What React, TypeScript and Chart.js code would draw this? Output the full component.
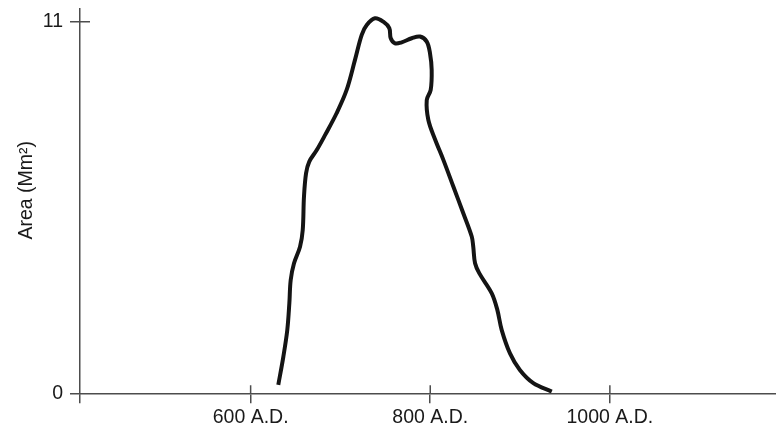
import { useEffect, useRef } from 'react';
import { Chart, registerables } from 'chart.js';

Chart.register(...registerables);

// Years (A.D.) along the curve
const years = [
  630.8, 636.4, 640.8, 643.1, 644.6, 648.3, 655.0, 658.0, 659.4, 661.7,
  665.3, 673.6, 683.0, 695.7, 706.9, 716.2, 723.7, 729.3, 738.5, 747.7,
  754.4, 756.0, 760.8, 768.2, 779.4, 788.6, 796.1, 799.7, 801.6, 800.5,
  796.1, 797.9, 805.3, 814.6, 825.7, 836.8, 846.2, 847.9, 849.9, 854.7,
  868.5, 874.7, 879.6, 888.8, 899.8, 914.8, 935.3,
];
// Area (Mm²) at each year
const areas = [
  0.25, 1.08, 1.87, 2.66, 3.35, 3.85, 4.34, 4.83, 5.82, 6.51,
  6.86, 7.20, 7.65, 8.29, 8.98, 9.87, 10.61, 10.90, 11.10, 11.00,
  10.81, 10.51, 10.36, 10.39, 10.51, 10.56, 10.41, 10.07, 9.57, 8.98,
  8.68, 8.09, 7.52, 6.91, 6.12, 5.33, 4.64, 4.34, 3.85, 3.55,
  2.96, 2.47, 1.87, 1.18, 0.69, 0.30, 0.05,
];

const xTickValues = [600, 800, 1000];
const xTickLabels = ['600 A.D.', '800 A.D.', '1000 A.D.'];
const yTickValues = [0, 11];
const yTickLabels = ['0', '11'];
const yAxisTitle = 'Area (Mm²)';

const X_MIN = 410;
const X_MAX = 1185;
const Y_MIN = 0;
const Y_MAX = 11.376;

const FONT = "'Liberation Sans', Arial, Helvetica, sans-serif";
const AXIS_COLOR = '#4d4d4d';
const TEXT_COLOR = '#1a1a1a';

const innerTicks = {
  id: 'innerTicks',
  afterDraw(chart: any) {
    const { ctx } = chart;
    const xs = chart.scales.x;
    const ys = chart.scales.y;
    ctx.save();
    ctx.strokeStyle = AXIS_COLOR;
    ctx.lineWidth = 1.5;
    ctx.beginPath();
    xTickValues.forEach((v) => {
      const px = xs.getPixelForValue(v);
      ctx.moveTo(px, xs.top);
      ctx.lineTo(px, xs.top - 8);
    });
    yTickValues.forEach((v) => {
      if (v === Y_MIN) return;
      const py = ys.getPixelForValue(v);
      ctx.moveTo(ys.right, py);
      ctx.lineTo(ys.right + 10, py);
    });
    ctx.stroke();
    ctx.restore();
  },
};

export default function App() {
  const ref = useRef<HTMLCanvasElement | null>(null);

  useEffect(() => {
    if (!ref.current) return;
    const chart = new Chart(ref.current, {
      type: 'line',
      data: {
        datasets: [
          {
            data: years.map((x, i) => ({ x, y: areas[i] })),
            borderColor: '#141414',
            borderWidth: 4,
            pointRadius: 0,
            tension: 0.35,
            fill: false,
          },
        ],
      },
      options: {
        animation: false,
        responsive: false,
        devicePixelRatio: 1,
        layout: { padding: { top: 9, left: 0, right: 0, bottom: 0 } },
        plugins: { legend: { display: false }, tooltip: { enabled: false } },
        scales: {
          x: {
            type: 'linear',
            min: X_MIN,
            max: X_MAX,
            afterBuildTicks: (scale: any) => {
              scale.ticks = [X_MIN, ...xTickValues].map((value) => ({ value }));
            },
            afterFit: (scale: any) => {
              scale.height = 34.7;
              scale.paddingLeft = 0;
              scale.paddingRight = 0;
            },
            ticks: {
              autoSkip: false,
              maxRotation: 0,
              padding: 3,
              color: TEXT_COLOR,
              font: { family: FONT, size: 19.5 },
              callback: (v: any) => {
                const i = xTickValues.indexOf(Number(v));
                return i >= 0 ? xTickLabels[i] : '';
              },
            },
            grid: {
              drawOnChartArea: false,
              drawTicks: true,
              tickLength: 10,
              color: AXIS_COLOR,
              lineWidth: 1.5,
            },
            border: { display: true, color: AXIS_COLOR, width: 1.5 },
          },
          y: {
            type: 'linear',
            min: Y_MIN,
            max: Y_MAX,
            afterBuildTicks: (scale: any) => {
              scale.ticks = yTickValues.map((value) => ({ value }));
            },
            afterFit: (scale: any) => {
              scale.width = 80;
              scale.paddingTop = 0;
              scale.paddingBottom = 0;
            },
            ticks: {
              autoSkip: false,
              padding: 7,
              color: TEXT_COLOR,
              font: { family: FONT, size: 19.5 },
              callback: (v: any) => {
                const i = yTickValues.indexOf(Number(v));
                return i >= 0 ? yTickLabels[i] : '';
              },
            },
            grid: {
              drawOnChartArea: false,
              drawTicks: true,
              tickLength: 10,
              color: AXIS_COLOR,
              lineWidth: 1.5,
            },
            border: { display: true, color: AXIS_COLOR, width: 1.5 },
            title: {
              display: true,
              text: '    ' + yAxisTitle,
              color: TEXT_COLOR,
              font: { family: FONT, size: 19.5 },
              padding: { top: 15, bottom: 0 },
            },
          },
        },
      },
      plugins: [innerTicks],
    });
    return () => chart.destroy();
  }, []);

  return (
    <div style={{ position: 'fixed', left: 0, top: 0, width: 776, height: 428, background: '#fff' }}>
      <canvas ref={ref} width={776} height={428} style={{ display: 'block', width: 776, height: 428 }} />
    </div>
  );
}
